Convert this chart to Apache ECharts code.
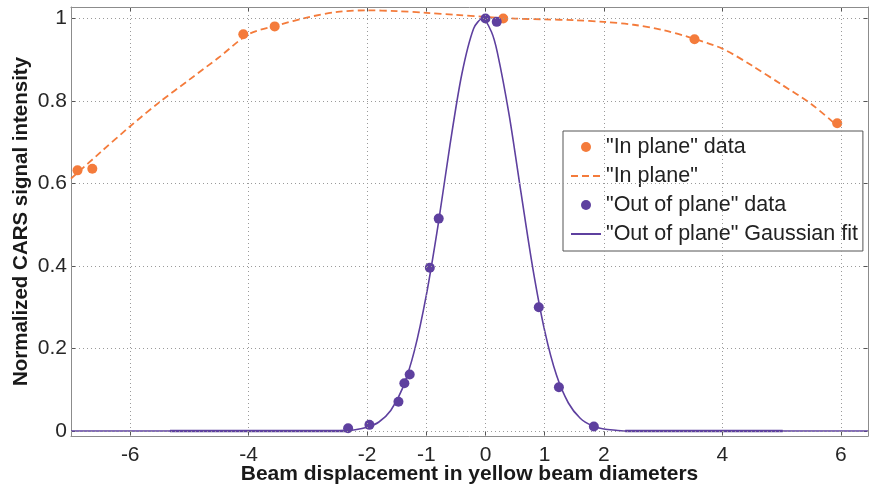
<!DOCTYPE html>
<html>
<head>
<meta charset="utf-8">
<script src="https://cdn.jsdelivr.net/npm/echarts@6/dist/echarts.min.js"></script>
<style>
  html, body { margin: 0; padding: 0; background: #fff; }
  #chart { width: 870px; height: 489px; }
</style>
</head>
<body>
<div id="chart"></div>
<script>
// Tick positions
const xTicks = [-6, -4, -2, -1, 0, 1, 2, 4, 6];
const yTicks = [0, 0.2, 0.4, 0.6, 0.8, 1];

// "In plane" measurements
const inPlaneX = [-6.89, -6.64, -4.09, -3.56, 0.30, 3.53, 5.94];
const inPlaneY = [0.632, 0.636, 0.962, 0.981, 1.000, 0.950, 0.746];

// "In plane" trend curve
const inCurveX = [-7.0, -6.5, -6.0, -5.5, -5.0, -4.5, -4.0, -3.5, -3.0, -2.5, -2.0, -1.5, -1.0, -0.5, 0.0, 0.5, 1.0, 1.5, 2.0, 2.5, 3.0, 3.5, 4.0, 4.5, 5.0, 5.5, 5.9];
const inCurveY = [0.612, 0.676, 0.739, 0.798, 0.852, 0.906, 0.962, 0.984, 1.003, 1.016, 1.020, 1.018, 1.014, 1.009, 1.004, 1.000, 0.998, 0.996, 0.992, 0.985, 0.972, 0.952, 0.927, 0.886, 0.840, 0.793, 0.745];

// "Out of plane" measurements
const outX = [-2.32, -1.96, -1.47, -1.37, -1.28, -0.94, -0.79, 0.00, 0.19, 0.90, 1.24, 1.83];
const outY = [0.007, 0.015, 0.071, 0.116, 0.137, 0.396, 0.515, 1.000, 0.992, 0.300, 0.106, 0.011];

// "Out of plane" Gaussian fit curve
const fitX = [-7.0, -2.6, -2.4, -2.2, -2.0, -1.8, -1.6, -1.4, -1.2, -1.0, -0.8, -0.6, -0.4, -0.2, -0.05, 0.1, 0.2, 0.4, 0.6, 0.8, 1.0, 1.2, 1.4, 1.6, 1.8, 2.0, 2.2, 2.4, 6.46];
const fitY = [0.000, 0.000, 0.001, 0.003, 0.009, 0.022, 0.050, 0.104, 0.195, 0.329, 0.500, 0.693, 0.865, 0.976, 1.000, 0.968, 0.918, 0.766, 0.578, 0.394, 0.243, 0.135, 0.068, 0.031, 0.013, 0.005, 0.002, 0.000, 0.000];

// Flat tails of the fit drawn a second time
const tailLeftX = [-5.33, -2.34];
const tailRightX = [2.36, 5.02];
const tailY = [0, 0];

const ORANGE = '#F47B3B';
const PURPLE = '#5E409F';
const FONT = '"Liberation Sans", Arial, Helvetica, sans-serif';

const zip = (xs, ys) => xs.map((x, i) => [x, ys[i]]);

const frameLine = { show: true, onZero: false, lineStyle: { color: '#8c8c8c', width: 1 } };
const tickStyle = (vals) => ({ show: true, inside: true, length: 5, customValues: vals, lineStyle: { color: '#555' } });

// dotted grid at the tick positions
const gridMarks = [
  ...xTicks.map(v => ({ xAxis: v })),
  ...yTicks.map(v => ({ yAxis: v }))
];

const chart = echarts.init(document.getElementById('chart'), null, { renderer: 'canvas' });

chart.setOption({
  animation: false,
  backgroundColor: '#ffffff',
  grid: { left: 71, top: 7, right: 2, bottom: 53, containLabel: false, outerBoundsMode: 'none' },
  xAxis: [
    {
      type: 'value', position: 'bottom', min: -7, max: 6.46,
      axisLine: frameLine,
      axisTick: tickStyle(xTicks),
      axisLabel: { customValues: xTicks, fontFamily: FONT, fontSize: 21, color: '#262626', margin: 9 },
      splitLine: { show: false },
      name: 'Beam displacement in yellow beam diameters',
      nameLocation: 'middle', nameGap: 28, nameMoveOverlap: false,
      nameTextStyle: { fontFamily: FONT, fontSize: 21, fontWeight: 'bold', color: '#1a1a1a' }
    },
    {
      type: 'value', position: 'top', min: -7, max: 6.46,
      axisLine: frameLine,
      axisTick: tickStyle(xTicks),
      axisLabel: { show: false },
      splitLine: { show: false }
    }
  ],
  yAxis: [
    {
      type: 'value', position: 'left', min: -0.012, max: 1.028,
      axisLine: frameLine,
      axisTick: tickStyle(yTicks),
      axisLabel: { customValues: yTicks, fontFamily: FONT, fontSize: 21, color: '#262626', margin: 4 },
      splitLine: { show: false },
      name: 'Normalized CARS signal intensity',
      nameLocation: 'middle', nameGap: 39, nameMoveOverlap: false,
      nameTextStyle: { fontFamily: FONT, fontSize: 20.5, fontWeight: 'bold', color: '#1a1a1a' }
    },
    {
      type: 'value', position: 'right', min: -0.012, max: 1.028,
      axisLine: frameLine,
      axisTick: tickStyle(yTicks),
      axisLabel: { show: false },
      splitLine: { show: false }
    }
  ],
  legend: {
    orient: 'vertical',
    left: 563, top: 131,
    padding: [5, 5, 6, 7],
    itemGap: 7,
    itemWidth: 30, itemHeight: 10,
    backgroundColor: '#ffffff',
    borderColor: '#555555', borderWidth: 1, borderRadius: 0,
    textStyle: { fontFamily: FONT, fontSize: 21.5, color: '#222222' },
    data: [
      { name: '"In plane" data', icon: 'circle' },
      { name: '"In plane"', itemStyle: { opacity: 0 } },
      { name: '"Out of plane" data', icon: 'circle' },
      { name: '"Out of plane" Gaussian fit', itemStyle: { opacity: 0 } }
    ]
  },
  series: [
    {
      name: 'grid', type: 'line', data: [], z: 1, silent: true,
      markLine: {
        silent: true, symbol: 'none', animation: false,
        label: { show: false },
        emphasis: { disabled: true },
        lineStyle: { color: '#9a9a9a', width: 1, type: [1, 3] },
        data: gridMarks
      }
    },
    {
      name: '"In plane" data', type: 'scatter', z: 3,
      data: zip(inPlaneX, inPlaneY),
      symbol: 'circle', symbolSize: 10,
      itemStyle: { color: ORANGE, opacity: 1 }
    },
    {
      name: '"In plane"', type: 'line', smooth: 0.3, z: 3,
      data: zip(inCurveX, inCurveY),
      symbol: 'none',
      lineStyle: { color: ORANGE, width: 1.8, type: [7, 4] },
      itemStyle: { color: ORANGE }
    },
    {
      name: '"Out of plane" data', type: 'scatter', z: 3,
      data: zip(outX, outY),
      symbol: 'circle', symbolSize: 10,
      itemStyle: { color: PURPLE, opacity: 1 }
    },
    {
      name: '"Out of plane" Gaussian fit', type: 'line', smooth: 0.3, z: 3,
      data: zip(fitX, fitY),
      symbol: 'none',
      lineStyle: { color: PURPLE, width: 1.6 },
      itemStyle: { color: PURPLE }
    },
    {
      name: 'fit tail left', type: 'line', z: 3,
      data: zip(tailLeftX, tailY),
      symbol: 'none',
      lineStyle: { color: PURPLE, width: 2.6 }
    },
    {
      name: 'fit tail right', type: 'line', z: 3,
      data: zip(tailRightX, tailY),
      symbol: 'none',
      lineStyle: { color: PURPLE, width: 2.6 }
    }
  ]
});
</script>
</body>
</html>
